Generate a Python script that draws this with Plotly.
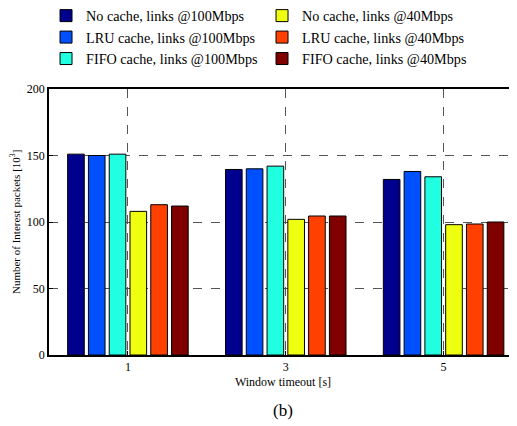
import plotly.graph_objects as go

categories = [1, 3, 5]
series_names = [
    "No cache, links @100Mbps",
    "LRU cache, links @100Mbps",
    "FIFO cache, links @100Mbps",
    "No cache, links @40Mbps",
    "LRU cache, links @40Mbps",
    "FIFO cache, links @40Mbps",
]
no_cache_100 = [151, 139.5, 132]
lru_100 = [150, 140, 138]
fifo_100 = [151, 142, 134]
no_cache_40 = [108, 102, 98]
lru_40 = [113, 104.5, 98.5]
fifo_40 = [112, 104.5, 100]
series_values = [no_cache_100, lru_100, fifo_100, no_cache_40, lru_40, fifo_40]
colors = ["#00008F", "#0050FF", "#20FFDF", "#EFFF10", "#FF4000", "#800000"]
legend_ranks = [1, 3, 5, 2, 4, 6]
y_ticks = [0, 50, 100, 150, 200]

FONT = "Liberation Serif"

fig = go.Figure()
for name, vals, col, rank in zip(series_names, series_values, colors, legend_ranks):
    fig.add_trace(go.Bar(
        x=categories, y=vals, name=name,
        marker=dict(color=col, line=dict(color="black", width=1)),
        legendrank=rank,
    ))

fig.update_layout(
    width=509, height=418,
    margin=dict(l=41, r=0, t=81, b=71, autoexpand=False),
    paper_bgcolor="white", plot_bgcolor="white",
    font=dict(family=FONT, color="black", size=12),
    barmode="group", bargap=0.21, bargroupgap=0.2,
    showlegend=True,
    legend=dict(
        orientation="h", xref="container", yref="paper",
        x=0.0747, y=1.335, xanchor="left", yanchor="top",
        entrywidth=171, entrywidthmode="pixels",
        font=dict(family=FONT, size=14.2, color="black"),
        itemwidth=30, tracegroupgap=0,
        bgcolor="rgba(0,0,0,0)",
    ),
    xaxis=dict(
        range=[0.0, 5.93], tickvals=categories, ticktext=[str(c) for c in categories],
        showline=True, linecolor="black", linewidth=1.5, mirror=True,
        ticks="inside", ticklen=4, tickcolor="black",
        showgrid=True, gridcolor="#555555", griddash="dash", gridwidth=1,
        zeroline=False,
        title=dict(text="Window timeout [s]", font=dict(size=12), standoff=4),
        tickfont=dict(size=12),
    ),
    yaxis=dict(
        range=[0, 200], tickvals=y_ticks,
        showline=True, linecolor="black", linewidth=1.5, mirror=False,
        ticks="inside", ticklen=4, tickcolor="black",
        showgrid=True, gridcolor="#555555", griddash="dash", gridwidth=1,
        zeroline=False,
        tickfont=dict(size=12),
    ),
    annotations=[
        dict(
            text="Number of Interest packets [10<sup>3</sup>]",
            xref="paper", yref="paper", x=-0.0726, y=0.5,
            xanchor="center", yanchor="middle", textangle=-90, showarrow=False,
            font=dict(family=FONT, size=11, color="black"),
        ),
        dict(
            text="(b)", xref="paper", yref="paper", x=0.5, y=-0.207,
            xanchor="center", yanchor="middle", showarrow=False,
            font=dict(family=FONT, size=17, color="black"),
        ),
    ],
)

fig.write_html("out.html")
